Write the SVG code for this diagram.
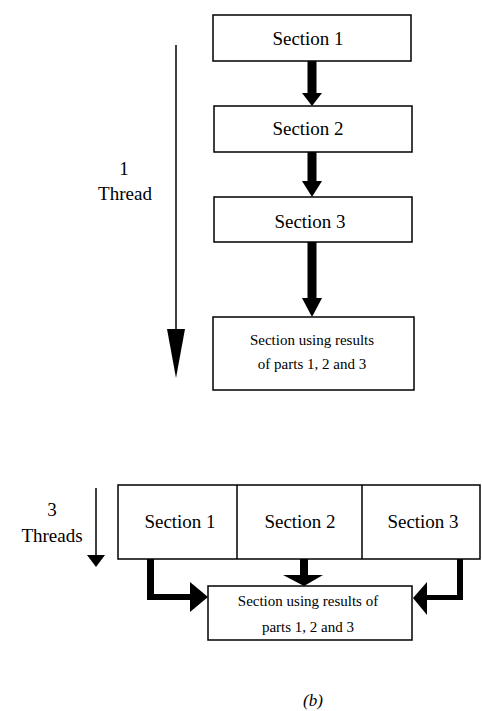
<svg xmlns="http://www.w3.org/2000/svg" width="482" height="711" viewBox="0 0 482 711">
<style>
.box{fill:#fff;stroke:#000;stroke-width:1.5}
.t{font-family:"Liberation Serif","Times New Roman",serif;font-size:19px;fill:#000;text-anchor:middle}
.s{font-family:"Liberation Serif","Times New Roman",serif;font-size:15px;fill:#000;text-anchor:middle}
.thin{stroke:#000;stroke-width:1.5;fill:none}
.fill{fill:#000;stroke:none}
</style>
<rect width="482" height="711" fill="#fff"/>
<g id="connectors">
  <line class="thin" x1="176" y1="45" x2="176" y2="330"/>
  <polygon class="fill" points="167,329 185,329 176,378"/>
  <rect class="fill" x="307.5" y="61" width="9" height="33"/>
  <polygon class="fill" points="302,93 322,93 312,106"/>
  <rect class="fill" x="307.5" y="152" width="9" height="30"/>
  <polygon class="fill" points="302,181 322,181 312,197"/>
  <rect class="fill" x="307.5" y="242" width="9" height="57"/>
  <polygon class="fill" points="302,298 322,298 312,317"/>
  <line class="thin" x1="96" y1="488" x2="96" y2="556"/>
  <polygon class="fill" points="87,555 105,555 96,567"/>
  <polygon class="fill" points="147,559 154,559 154,594 191,594 191,600 147,600"/>
  <polygon class="fill" points="190,582 208,597 190,612"/>
  <rect class="fill" x="300" y="559" width="8" height="17"/>
  <polygon class="fill" points="283,575 323,575 304,586"/>
  <polygon class="fill" points="457,559 463,559 463,600 426,600 426,595 457,595"/>
  <polygon class="fill" points="427,582 427,615 413,598"/>
</g>
<g id="thread1-label">
  <text class="t" x="124" y="175">1</text>
  <text class="t" x="125" y="200">Thread</text>
</g>
<g id="section1">
  <rect class="box" x="213" y="15" width="198" height="46"/>
  <text class="t" x="308" y="45">Section 1</text>
</g>
<g id="section2">
  <rect class="box" x="214" y="106" width="198" height="46"/>
  <text class="t" x="308" y="135">Section 2</text>
</g>
<g id="section3">
  <rect class="box" x="214" y="197" width="198" height="45"/>
  <text class="t" x="310" y="228">Section 3</text>
</g>
<g id="combine-top">
  <rect class="box" x="213" y="317" width="201" height="73"/>
  <text class="s" x="312" y="345">Section using results</text>
  <text class="s" x="312" y="369">of parts 1, 2 and 3</text>
</g>
<g id="threads3-label">
  <text class="t" x="52" y="516">3</text>
  <text class="t" x="52" y="542">Threads</text>
</g>
<g id="row">
  <rect class="box" x="118" y="485" width="362" height="74"/>
  <line class="thin" x1="237" y1="485" x2="237" y2="559"/>
  <line class="thin" x1="362" y1="485" x2="362" y2="559"/>
  <text class="t" x="180" y="528">Section 1</text>
  <text class="t" x="300" y="528">Section 2</text>
  <text class="t" x="423" y="528">Section 3</text>
</g>
<g id="combine-bottom">
  <rect class="box" x="208" y="586" width="204" height="54"/>
  <text class="s" x="308" y="606">Section using results of</text>
  <text class="s" x="308" y="632">parts 1, 2 and 3</text>
</g>
<g id="caption">
  <text x="313" y="706" style="font-family:'Liberation Serif',serif;font-style:italic;font-size:17px;text-anchor:middle">(b)</text>
</g>
</svg>
